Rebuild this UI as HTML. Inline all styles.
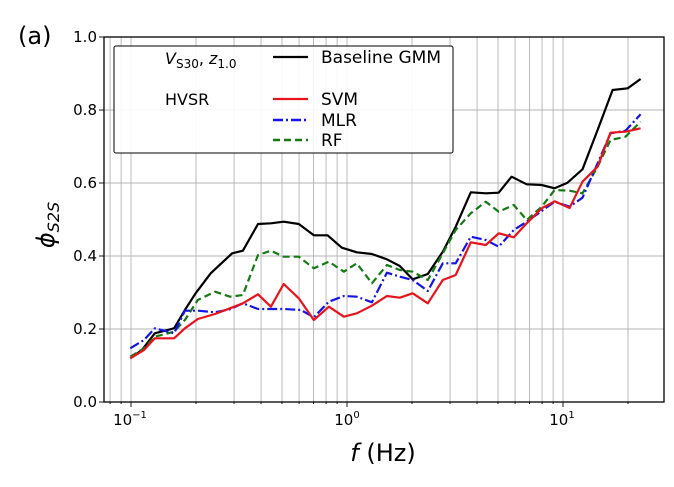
<!DOCTYPE html>
<html><head><style>body{margin:0;background:#fff}svg{display:block}text{font-family:"DejaVu Sans","Liberation Sans",sans-serif}</style></head>
<body>
<svg width="674" height="487" viewBox="0 0 674 487">
<g id="grid" stroke="#b4b4b4" stroke-width="0.9"></g>
<rect x="104" y="37" width="560" height="365" fill="none" stroke="#000" stroke-width="1.3"/>
<g id="ticks" font-size="15" fill="#000"></g>
<g id="data" fill="none" stroke-width="2.2" stroke-linejoin="round"></g>
<rect x="114" y="46" width="339" height="107" fill="#fff" fill-opacity="0.9" stroke="#000" stroke-width="1" rx="2"/>
<text x="165" y="64" font-size="16" font-style="italic">V<tspan font-size="12" dy="4" font-style="normal">S30</tspan><tspan dy="-4" font-style="normal">, </tspan>z<tspan font-size="12" dy="4" font-style="normal">1.0</tspan></text>
<text x="165" y="105" font-size="16">HVSR</text>
<line x1="273" y1="57" x2="308" y2="57" stroke="#000" stroke-width="2.2"/>
<text x="321" y="63" font-size="17">Baseline GMM</text>
<line x1="273" y1="99" x2="308" y2="99" stroke="#e8141c" stroke-width="2.2"/>
<text x="321" y="105" font-size="17">SVM</text>
<line x1="273" y1="120" x2="308" y2="120" stroke="#1414e6" stroke-width="2.4" stroke-dasharray="10,3,2,3"/>
<text x="321" y="126" font-size="17">MLR</text>
<line x1="273" y1="140" x2="308" y2="140" stroke="#157a15" stroke-width="2.4" stroke-dasharray="7,4"/>
<text x="321" y="146" font-size="17">RF</text>
<text x="18" y="44" font-size="24">(a)</text>
<text transform="translate(54,225) rotate(-90)" font-size="24" text-anchor="middle" font-style="italic">ϕ<tspan font-size="16" dy="5">S2S</tspan></text>
<text x="383" y="461" font-size="24" text-anchor="middle"><tspan font-style="italic">f</tspan> (Hz)</text>
</svg>
<script>
const NS="http://www.w3.org/2000/svg";
const X=f=>347+216*Math.log10(f), Y=v=>402-365*v;
const g=document.getElementById('grid'),t=document.getElementById('ticks'),d=document.getElementById('data');
function el(p,n,a,txt){const e=document.createElementNS(NS,n);for(const k in a)e.setAttribute(k,a[k]);if(txt!==undefined)e.innerHTML=txt;p.appendChild(e);return e;}
[0.08,0.09,0.1,0.2,0.3,0.4,0.5,0.6,0.7,0.8,0.9,1,2,3,4,5,6,7,8,9,10,20].forEach(f=>{const x=X(f);if(x>104&&x<664){el(g,'line',{x1:x,x2:x,y1:37,y2:402});el(g,'line',{x1:x,x2:x,y1:402,y2:[0.1,1,10].includes(f)?407:404,stroke:'#000'});}});
[0.2,0.4,0.6,0.8].forEach(v=>el(g,'line',{x1:104,x2:664,y1:Y(v),y2:Y(v)}));
[0,0.2,0.4,0.6,0.8,1.0].forEach(v=>{el(g,'line',{x1:99,x2:104,y1:Y(v),y2:Y(v),stroke:'#000'});el(t,'text',{x:97,y:Y(v)+5,'text-anchor':'end'},v.toFixed(1));});
[[-1,130],[0,347],[1,562]].forEach(([e,x])=>el(t,'text',{x:x,y:425,'text-anchor':'middle'},'10<tspan font-size="10" dy="-7">'+(e<0?'−1':e)+'</tspan>'));
const S={
k:[[303,1075],[330,1050],[360,1000],[405,985],[430,930],[455,880],[490,820],[515,790],[540,760],[565,752],[600,672],[630,670],[660,665],[695,672],[730,706],[762,706],[795,743],[830,757],[865,762],[900,778],[930,798],[960,838],[995,822],[1030,755],[1060,680],[1095,577],[1130,580],[1160,578],[1190,530],[1225,553],[1260,555],[1290,565],[1320,548],[1355,508],[1390,390],[1425,270],[1460,265],[1490,237]],
r:[[303,1075],[335,1050],[360,1015],[405,1015],[430,985],[460,957],[500,942],[535,925],[565,910],[600,883],[630,920],[660,852],[695,895],[730,960],[765,920],[800,950],[830,940],[865,917],[900,888],[930,893],[960,880],[995,910],[1030,840],[1060,825],[1095,727],[1130,735],[1160,700],[1195,712],[1225,670],[1260,625],[1290,604],[1325,624],[1355,545],[1390,500],[1420,398],[1455,395],[1490,385]],
b:[[303,1045],[335,1020],[360,985],[405,1000],[430,932],[460,932],[500,937],[535,928],[565,910],[600,927],[660,927],[700,930],[730,952],[765,905],[800,888],[830,890],[865,907],[900,818],[930,830],[960,840],[995,873],[1030,790],[1060,790],[1095,710],[1130,720],[1160,740],[1195,690],[1225,665],[1260,633],[1290,605],[1325,620],[1355,593],[1390,490],[1420,400],[1455,392],[1490,343]],
g:[[303,1070],[335,1045],[360,1010],[405,995],[430,960],[460,900],[500,875],[535,890],[565,885],[600,765],[630,752],[660,770],[695,770],[730,805],[765,785],[800,815],[830,790],[865,850],[900,795],[930,810],[960,815],[995,840],[1030,760],[1060,690],[1095,640],[1130,605],[1160,635],[1195,615],[1225,660],[1260,620],[1290,570],[1325,572],[1355,580],[1390,500],[1420,420],[1455,410],[1490,365]]};
const st={k:['#000',''],g:['#157a15','7,4'],b:['#1414e6','10,3,2,3'],r:['#e8141c','']};
['k','g','b','r'].forEach(k=>{const pts=S[k].map(([x,y])=>(x/2.326).toFixed(1)+','+(y/3).toFixed(1)).join(' ');const a={points:pts,stroke:st[k][0]};if(st[k][1])a['stroke-dasharray']=st[k][1];el(d,'polyline',a);});
</script>
</body></html>
